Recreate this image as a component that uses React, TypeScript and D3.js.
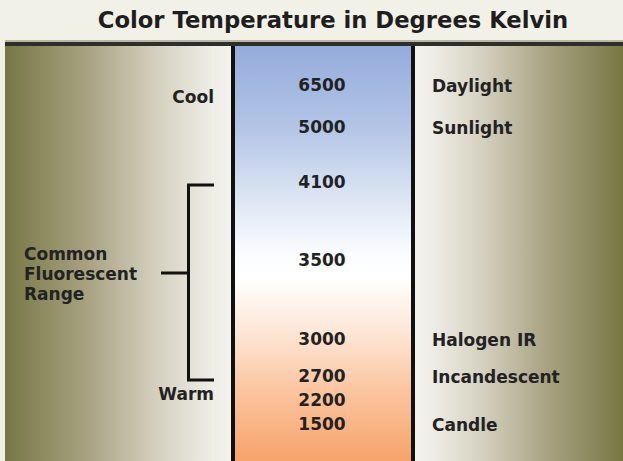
import React from "react";
import * as d3 from "d3";

// ---- data ----
const title = "Color Temperature in Degrees Kelvin";
const kelvin = [6500, 5000, 4100, 3500, 3000, 2700, 2200, 1500];
const sourceLabels = ["Daylight", "Sunlight", "", "", "Halogen IR", "Incandescent", "", "Candle"];
const rangeLabelLines = ["Common", "Fluorescent", "Range"];
const fluorescentRange = [4100, 3500, 2700]; // top, middle, bottom
const coolLabel = "Cool";
const warmLabel = "Warm";

// ---- layout ----
const W = 623;
const H = 461;
const panelTop = 46;
const leftX0 = 5;
const colX0 = 235;
const colX1 = 411;
const lineW = 4;
const FONT = "'DejaVu Sans', sans-serif";

export default function App() {
  // piecewise scale mapping temperatures to rows of the diagram
  const y = d3.scaleLinear().domain(kelvin).range([91, 133, 188, 266, 345, 382, 406, 430]);
  const colMid = (colX0 + colX1) / 2;

  const bTop = y(fluorescentRange[0]) - 3;
  const bMid = y(fluorescentRange[1]) + 7;
  const bBot = y(fluorescentRange[2]) - 2;
  const bX = 188.5;
  const bRight = 214;
  const bTickLeft = 161;

  return (
    <div style={{ position: "absolute", left: 0, top: 0 }}>
      <svg width={W} height={H} style={{ display: "block" }} fontFamily={FONT}>
        <defs>
          <linearGradient id="leftG" x1="0" x2="1" y1="0" y2="0">
            <stop offset="0" stopColor="#777745" />
            <stop offset="0.35" stopColor="#a7a180" />
            <stop offset="0.68" stopColor="#d7d3c3" />
            <stop offset="0.9" stopColor="#eeede6" />
            <stop offset="1" stopColor="#f4f3ef" />
          </linearGradient>
          <linearGradient id="rightG" x1="0" x2="1" y1="0" y2="0">
            <stop offset="0" stopColor="#f4f3ef" />
            <stop offset="0.1" stopColor="#eeede6" />
            <stop offset="0.32" stopColor="#d7d3c3" />
            <stop offset="0.65" stopColor="#a7a180" />
            <stop offset="1" stopColor="#777745" />
          </linearGradient>
          <linearGradient id="colG" x1="0" x2="0" y1="0" y2="1">
            <stop offset="0" stopColor="#94acdb" />
            <stop offset="0.2" stopColor="#b4c5e6" />
            <stop offset="0.35" stopColor="#d9e2f2" />
            <stop offset="0.5" stopColor="#fbfcfe" />
            <stop offset="0.56" stopColor="#ffffff" />
            <stop offset="0.7" stopColor="#fde4d2" />
            <stop offset="0.82" stopColor="#fbc7a3" />
            <stop offset="1" stopColor="#f7a36b" />
          </linearGradient>
        </defs>

        <rect x={0} y={0} width={W} height={H} fill="#f2f1e7" />

        <text x={333} y={28} textAnchor="middle" fontSize={22.7} fontWeight="bold" fill="#1e1e1e">
          {title}
        </text>

        {/* panels */}
        <rect x={leftX0} y={panelTop} width={colX0 - leftX0} height={H - panelTop} fill="url(#leftG)" />
        <rect x={colX0} y={panelTop} width={colX1 - colX0} height={H - panelTop} fill="url(#colG)" />
        <rect x={colX1} y={panelTop} width={W - colX1} height={H - panelTop} fill="url(#rightG)" />

        {/* top rule */}
        <rect x={leftX0} y={40} width={W - leftX0} height={2} fill="#b9b8a8" />
        <rect x={leftX0} y={42} width={W - leftX0} height={4} fill="#2e2e2a" />

        {/* column borders */}
        <rect x={colX0 - lineW} y={panelTop} width={lineW} height={H - panelTop} fill="#111" />
        <rect x={colX1} y={panelTop} width={lineW} height={H - panelTop} fill="#111" />

        {/* temperatures */}
        {kelvin.map((k) => (
          <text key={k} x={colMid - 1} y={y(k)} textAnchor="middle" fontSize={17} fontWeight="bold" fill="#222">
            {k}
          </text>
        ))}

        {/* light sources */}
        {kelvin.map((k, i) =>
          sourceLabels[i] ? (
            <text key={"s" + k} x={432} y={y(k) + 1} fontSize={17} fontWeight="bold" fill="#222">
              {sourceLabels[i]}
            </text>
          ) : null
        )}

        {/* cool / warm */}
        <text x={214} y={y(kelvin[0]) + 12} textAnchor="end" fontSize={17} fontWeight="bold" fill="#222">
          {coolLabel}
        </text>
        <text x={214} y={y(fluorescentRange[2]) + 18} textAnchor="end" fontSize={17} fontWeight="bold" fill="#222">
          {warmLabel}
        </text>

        {/* bracket */}
        <path
          d={`M${bRight},${bTop}H${bX}V${bBot}H${bRight}M${bX},${bMid}H${bTickLeft}`}
          fill="none"
          stroke="#111"
          strokeWidth={3}
        />
        {rangeLabelLines.map((t, i) => (
          <text key={t} x={24} y={bMid - 13 + i * 20} fontSize={17} fontWeight="bold" fill="#222">
            {t}
          </text>
        ))}
      </svg>
    </div>
  );
}
